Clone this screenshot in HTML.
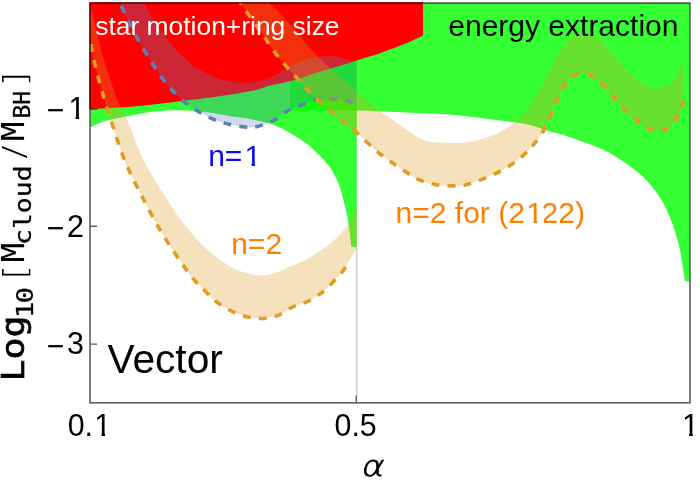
<!DOCTYPE html>
<html><head><meta charset="utf-8"><title>Vector</title>
<style>
html,body{margin:0;padding:0;background:#fff;}
svg{display:block;}
text{font-family:"Liberation Sans",sans-serif;}
text.lt{font-family:"DejaVu Sans Light","DejaVu Sans","Liberation Sans",sans-serif;font-weight:200;}
text.mono{font-family:"DejaVu Sans Mono","Liberation Mono",monospace;}
</style></head><body>
<svg width="700" height="482" viewBox="0 0 700 482">
<rect width="700" height="482" fill="#fff"/>
<!-- regions -->
<path d="M90.5 3.0 L90.5 127.3 C92.9 126.2 98.4 122.9 105.0 121.0 C111.6 119.1 121.7 117.3 130.0 115.7 C138.3 114.1 146.7 112.5 155.0 111.6 C163.3 110.7 171.7 110.2 180.0 110.3 C188.3 110.4 196.7 111.0 205.0 112.0 C213.3 113.0 221.7 114.7 230.0 116.0 C238.3 117.3 246.7 118.1 255.0 120.0 C263.3 121.9 271.7 123.8 280.0 127.5 C288.3 131.2 299.4 138.8 305.0 142.5 C310.6 146.2 310.8 147.3 313.8 150.0 C316.7 152.7 319.8 155.6 322.5 158.5 C325.2 161.4 327.8 164.4 330.0 167.5 C332.2 170.6 333.8 173.7 335.5 177.0 C337.2 180.3 338.6 183.3 340.0 187.5 C341.4 191.7 342.8 197.0 344.0 202.0 C345.2 207.0 346.6 212.5 347.5 217.5 C348.4 222.5 349.1 227.2 349.7 232.0 C350.3 236.8 351.0 244.1 351.2 246.5 L356.8 247.5 L356.8 3.0 Z" fill="#00ff00" fill-opacity="0.8"/>
<path d="M356.8 3.0 L356.8 110.5 C364.8 110.8 388.6 111.8 405.0 112.5 C421.4 113.2 438.3 113.5 455.0 115.0 C471.7 116.5 492.5 119.6 505.0 121.2 C517.5 122.9 523.3 123.5 530.0 125.0 C536.7 126.5 539.6 128.4 545.0 130.0 C550.4 131.6 555.4 132.5 562.5 134.8 C569.6 137.0 581.2 141.2 587.5 143.5 C593.8 145.8 596.2 146.6 600.0 148.3 C603.8 150.0 606.9 151.6 610.4 153.5 C613.9 155.4 617.2 157.4 620.7 159.7 C624.2 161.9 627.6 164.4 631.1 167.0 C634.6 169.6 638.0 172.0 641.5 175.3 C645.0 178.6 648.4 182.4 651.9 186.7 C655.4 191.0 659.1 195.8 662.2 201.2 C665.3 206.5 668.1 212.8 670.5 218.8 C672.9 224.9 675.2 232.3 676.8 237.5 C678.4 242.7 679.0 245.4 680.0 250.0 C681.0 254.6 681.7 260.1 682.5 265.3 C683.3 270.5 684.6 278.6 685.0 281.2 L689.5 281.2 L689.5 3.0 Z" fill="#00ff00" fill-opacity="0.8"/>
<rect x="290" y="3" width="66.75" height="107.6" fill="#00ff00" fill-opacity="0.8"/>
<path d="M89.3 2.2 L89.3 109.2 C96.1 108.8 114.9 108.1 130.0 106.8 C145.1 105.5 165.4 103.0 180.0 101.2 C194.6 99.5 205.0 98.3 217.5 96.5 C230.0 94.7 246.2 92.0 255.0 90.2 C263.8 88.4 264.1 87.1 270.0 85.6 C275.9 84.1 283.8 82.9 290.7 81.0 C297.6 79.1 304.6 76.6 311.5 74.4 C318.4 72.2 324.6 70.4 332.2 68.1 C339.8 65.8 350.8 62.5 357.1 60.5 C363.4 58.5 366.2 57.5 370.0 56.3 C373.8 55.1 374.2 55.3 380.0 53.2 C385.8 51.1 397.8 46.7 405.0 43.8 C412.2 40.8 420.0 36.9 423.0 35.5 L423.0 2.2 Z" fill="#fe0000"/>
<!-- bands -->
<path d="M120.0 3.0 C121.5 6.2 125.9 15.7 129.0 22.0 C132.1 28.3 134.8 34.0 138.8 41.0 C142.7 48.0 147.7 56.4 152.5 63.8 C157.3 71.1 162.1 78.5 167.5 85.0 C172.9 91.5 179.6 97.9 185.0 102.5 C190.4 107.1 195.0 109.6 200.0 112.5 C205.0 115.4 210.0 118.0 215.0 120.0 C220.0 122.0 225.0 123.3 230.0 124.5 C235.0 125.7 240.8 126.6 245.0 127.0 C249.2 127.4 250.4 128.0 255.0 127.0 C259.6 126.0 267.1 123.7 272.5 121.0 C277.9 118.3 282.9 113.6 287.5 111.0 C292.1 108.4 295.4 107.3 300.0 105.5 C304.6 103.7 309.6 101.1 315.0 100.0 C320.4 98.9 327.1 98.6 332.5 98.8 C337.9 98.9 343.5 100.0 347.5 101.0 C351.5 102.0 355.2 104.3 356.8 105.0 L356.8 63.5 C356.1 63.2 356.4 62.8 353.0 61.6 C349.6 60.5 342.0 57.4 336.5 56.6 C331.0 55.8 325.6 55.9 320.0 56.6 C314.4 57.3 308.6 58.8 303.0 60.8 C297.4 62.8 292.1 65.4 286.6 68.3 C281.1 71.2 274.9 75.8 270.0 78.0 C265.1 80.2 261.2 80.7 257.0 81.5 C252.8 82.3 249.5 82.8 245.0 82.8 C240.5 82.8 234.7 82.3 230.0 81.5 C225.3 80.7 221.2 79.5 217.0 78.0 C212.8 76.5 209.1 74.7 205.0 72.5 C200.9 70.3 197.3 68.8 192.5 65.0 C187.7 61.2 181.0 55.4 176.0 50.0 C171.0 44.6 166.5 38.0 162.5 32.5 C158.5 27.0 155.1 21.9 152.0 17.0 C148.9 12.1 145.1 5.3 143.8 3.0 Z" fill="#5e81b5" fill-opacity="0.3"/>
<path d="M120.0 3.0 C121.5 6.2 125.9 15.7 129.0 22.0 C132.1 28.3 134.8 34.0 138.8 41.0 C142.7 48.0 147.7 56.4 152.5 63.8 C157.3 71.1 162.1 78.5 167.5 85.0 C172.9 91.5 179.6 97.9 185.0 102.5 C190.4 107.1 195.0 109.6 200.0 112.5 C205.0 115.4 210.0 118.0 215.0 120.0 C220.0 122.0 225.0 123.3 230.0 124.5 C235.0 125.7 240.8 126.6 245.0 127.0 C249.2 127.4 250.4 128.0 255.0 127.0 C259.6 126.0 267.1 123.7 272.5 121.0 C277.9 118.3 282.9 113.6 287.5 111.0 C292.1 108.4 295.4 107.3 300.0 105.5 C304.6 103.7 309.6 101.1 315.0 100.0 C320.4 98.9 327.1 98.6 332.5 98.8 C337.9 98.9 343.5 100.0 347.5 101.0 C351.5 102.0 355.2 104.3 356.8 105.0" fill="none" stroke="#5e81b5" stroke-width="3.6" stroke-dasharray="7.9 8.15" stroke-dashoffset="12.98"/>
<path d="M90.5 35.0 C90.6 36.7 90.7 40.8 91.2 45.0 C91.8 49.2 91.7 51.2 93.8 60.0 C95.8 68.8 100.6 86.7 103.8 97.5 C106.9 108.3 109.4 115.4 112.5 125.0 C115.6 134.6 119.6 147.1 122.5 155.0 C125.4 162.9 126.7 165.4 130.0 172.5 C133.3 179.6 137.5 187.9 142.5 197.5 C147.5 207.1 153.8 219.4 160.0 230.0 C166.2 240.6 174.4 252.6 180.0 260.8 C185.6 269.0 189.6 274.3 193.8 279.3 C197.9 284.3 201.1 287.2 205.0 291.0 C208.9 294.8 212.6 298.9 217.0 302.2 C221.4 305.5 226.4 308.6 231.3 311.0 C236.2 313.4 241.4 315.4 246.5 316.7 C251.6 317.9 256.9 318.7 262.1 318.5 C267.3 318.3 272.8 317.5 277.8 315.6 C282.8 313.7 287.3 309.4 292.2 307.1 C297.1 304.8 302.3 304.0 307.1 301.7 C311.9 299.4 316.6 296.5 320.8 293.4 C325.0 290.2 328.7 286.6 332.4 282.8 C336.1 279.0 340.1 274.6 343.0 270.8 C345.9 267.1 347.2 264.1 349.5 260.3 C351.8 256.5 355.5 249.9 356.8 247.8 L356.8 206.0 C355.2 209.2 352.0 218.7 347.5 225.0 C343.0 231.3 337.1 237.9 330.0 243.8 C322.9 249.6 312.1 256.0 305.0 260.0 C297.9 264.0 292.0 265.5 287.5 267.5 C283.0 269.5 281.3 270.8 278.0 272.0 C274.7 273.2 271.3 274.5 267.5 275.0 C263.7 275.5 259.1 275.5 255.0 275.0 C250.9 274.5 247.2 273.4 243.0 272.0 C238.8 270.6 236.3 270.6 230.0 266.5 C223.7 262.4 212.9 254.9 205.0 247.5 C197.1 240.1 189.6 231.2 182.5 222.0 C175.4 212.8 167.1 199.5 162.5 192.5 C157.9 185.5 158.3 185.8 155.0 180.0 C151.7 174.2 147.3 168.4 142.5 158.0 C137.7 147.6 130.2 127.2 126.0 117.5 C121.8 107.8 121.2 109.8 117.5 100.0 C113.8 90.2 107.9 73.9 103.5 58.5 C99.1 43.1 93.2 16.4 91.0 7.5 C88.8 -1.4 90.6 5.4 90.5 5.0 Z" fill="#e19c24" fill-opacity="0.3"/>
<path d="M90.8 43.0 C90.9 43.9 91.1 45.7 91.6 48.5 C92.1 51.3 91.7 51.8 93.8 60.0 C95.8 68.2 100.6 86.7 103.8 97.5 C106.9 108.3 109.4 115.4 112.5 125.0 C115.6 134.6 119.6 147.1 122.5 155.0 C125.4 162.9 126.7 165.4 130.0 172.5 C133.3 179.6 137.5 187.9 142.5 197.5 C147.5 207.1 153.8 219.4 160.0 230.0 C166.2 240.6 174.4 252.6 180.0 260.8 C185.6 269.0 189.6 274.3 193.8 279.3 C197.9 284.3 201.1 287.2 205.0 291.0 C208.9 294.8 212.6 298.9 217.0 302.2 C221.4 305.5 226.4 308.6 231.3 311.0 C236.2 313.4 241.4 315.4 246.5 316.7 C251.6 317.9 256.9 318.7 262.1 318.5 C267.3 318.3 272.8 317.5 277.8 315.6 C282.8 313.7 287.3 309.4 292.2 307.1 C297.1 304.8 302.3 304.0 307.1 301.7 C311.9 299.4 316.6 296.5 320.8 293.4 C325.0 290.2 328.7 286.6 332.4 282.8 C336.1 279.0 340.1 274.6 343.0 270.8 C345.9 267.1 348.4 262.1 349.5 260.3" fill="none" stroke="#e19c24" stroke-width="3.6" stroke-dasharray="7.9 8.15" stroke-dashoffset="14.74"/>
<path d="M240.3 3.0 C241.7 5.0 245.8 10.7 248.6 14.7 C251.4 18.7 254.3 22.7 257.4 27.1 C260.5 31.5 263.4 35.7 267.1 41.0 C270.8 46.3 274.6 52.5 279.7 58.8 C284.8 65.0 291.6 72.3 297.5 78.8 C303.4 85.2 308.8 91.5 315.0 97.5 C321.2 103.5 328.3 109.4 335.0 115.0 C341.7 120.6 347.5 124.8 355.0 131.2 C362.5 137.7 371.5 147.0 380.0 153.8 C388.5 160.5 399.3 167.6 406.0 172.0 C412.7 176.4 415.2 178.1 420.0 180.2 C424.8 182.3 429.8 183.4 435.0 184.4 C440.2 185.4 445.8 185.9 451.2 185.9 C456.6 185.9 460.3 186.2 467.2 184.4 C474.1 182.6 484.9 178.4 492.5 175.0 C500.1 171.6 507.1 167.3 512.5 163.8 C517.9 160.2 521.5 156.9 525.0 153.8 C528.5 150.6 530.2 148.8 533.2 145.0 C536.2 141.2 540.4 136.0 543.3 131.0 C546.2 126.0 548.5 120.2 550.8 115.0 C553.1 109.8 554.9 104.6 557.0 100.0 C559.1 95.4 560.7 91.3 563.2 87.5 C565.7 83.7 568.6 79.4 572.0 77.0 C575.4 74.6 579.9 73.1 583.8 73.2 C587.6 73.4 591.5 75.6 595.0 78.0 C598.5 80.4 600.8 83.0 605.0 87.5 C609.2 92.0 615.0 99.7 620.0 105.0 C625.0 110.3 630.0 115.5 635.0 119.5 C640.0 123.5 645.4 126.9 650.0 128.8 C654.6 130.6 658.8 131.3 662.5 130.5 C666.2 129.7 669.6 126.8 672.5 123.8 C675.4 120.8 678.1 116.3 680.0 112.5 C681.9 108.7 683.1 102.9 683.8 101.0 L683.0 60.0 C682.1 62.5 679.7 71.0 677.5 75.0 C675.3 79.0 672.9 81.6 670.0 83.8 C667.1 85.9 663.3 87.6 660.0 88.0 C656.7 88.4 653.8 87.6 650.0 86.2 C646.2 84.9 641.7 82.9 637.5 80.0 C633.3 77.1 629.2 73.1 625.0 68.8 C620.8 64.4 616.7 58.5 612.5 53.8 C608.3 49.0 604.2 43.3 600.0 40.0 C595.8 36.7 591.7 34.4 587.5 33.8 C583.3 33.1 579.2 34.0 575.0 36.2 C570.8 38.5 566.7 41.9 562.5 47.5 C558.3 53.1 554.3 62.1 550.0 70.0 C545.7 77.9 540.6 88.0 536.5 95.0 C532.4 102.0 529.7 107.0 525.5 112.0 C521.3 117.0 517.0 121.1 511.5 125.0 C506.0 128.9 499.4 132.7 492.5 135.5 C485.6 138.3 476.5 140.7 470.0 141.9 C463.5 143.1 459.9 142.9 453.7 142.9 C447.5 142.9 438.2 142.5 433.0 141.9 C427.8 141.3 426.1 140.8 422.6 139.4 C419.1 138.0 417.4 137.0 412.2 133.6 C407.0 130.2 398.4 123.8 391.5 119.0 C384.6 114.2 376.7 109.2 370.8 104.5 C364.9 99.8 362.0 95.8 356.0 90.5 C350.0 85.2 342.0 78.8 335.0 72.5 C328.0 66.2 321.0 60.0 314.0 52.5 C307.0 45.0 300.6 35.8 293.2 27.5 C285.8 19.2 273.4 7.1 269.5 3.0 Z" fill="#e19c24" fill-opacity="0.3"/>
<path d="M240.3 3.0 C241.7 5.0 245.8 10.7 248.6 14.7 C251.4 18.7 254.3 22.7 257.4 27.1 C260.5 31.5 263.4 35.7 267.1 41.0 C270.8 46.3 274.6 52.5 279.7 58.8 C284.8 65.0 291.6 72.3 297.5 78.8 C303.4 85.2 308.8 91.5 315.0 97.5 C321.2 103.5 328.3 109.4 335.0 115.0 C341.7 120.6 347.5 124.8 355.0 131.2 C362.5 137.7 371.5 147.0 380.0 153.8 C388.5 160.5 399.3 167.6 406.0 172.0 C412.7 176.4 415.2 178.1 420.0 180.2 C424.8 182.3 429.8 183.4 435.0 184.4 C440.2 185.4 445.8 185.9 451.2 185.9 C456.6 185.9 460.3 186.2 467.2 184.4 C474.1 182.6 484.9 178.4 492.5 175.0 C500.1 171.6 507.1 167.3 512.5 163.8 C517.9 160.2 521.5 156.9 525.0 153.8 C528.5 150.6 530.2 148.8 533.2 145.0 C536.2 141.2 540.4 136.0 543.3 131.0 C546.2 126.0 548.5 120.2 550.8 115.0 C553.1 109.8 554.9 104.6 557.0 100.0 C559.1 95.4 560.7 91.3 563.2 87.5 C565.7 83.7 568.6 79.4 572.0 77.0 C575.4 74.6 579.9 73.1 583.8 73.2 C587.6 73.4 591.5 75.6 595.0 78.0 C598.5 80.4 600.8 83.0 605.0 87.5 C609.2 92.0 615.0 99.7 620.0 105.0 C625.0 110.3 630.0 115.5 635.0 119.5 C640.0 123.5 645.4 126.9 650.0 128.8 C654.6 130.6 658.8 131.3 662.5 130.5 C666.2 129.7 669.6 126.8 672.5 123.8 C675.4 120.8 678.1 116.3 680.0 112.5 C681.9 108.7 683.1 102.9 683.8 101.0" fill="none" stroke="#e19c24" stroke-width="3.6" stroke-dasharray="7.9 8.15" stroke-dashoffset="5.98"/>
<!-- frame -->
<line x1="356.6" y1="247.5" x2="356.6" y2="396" stroke="#000" stroke-opacity="0.17" stroke-width="1.6"/>
<g stroke="#000" stroke-opacity="0.63" stroke-width="1.6" fill="none">
<rect x="90.05" y="3" width="599.95" height="399.8"/>
<path d="M90.85 109.1H97M90.85 226.3H97M90.85 344.1H97M356.3 395.5V402" stroke-width="1.4"/>
</g>
<defs><clipPath id="k1"><path clip-rule="evenodd" d="M-999 -999H1999V999H-999Z M243.40 161.80H251.50V167.50H243.40Z M255.00 161.80H261.80V167.50H255.00Z"/></clipPath><clipPath id="k2"><path clip-rule="evenodd" d="M-999 -999H1999V999H-999Z M525.34 219.50H533.44V225.20H525.34Z M536.94 219.50H543.74V225.20H536.94Z"/></clipPath><clipPath id="k3"><path clip-rule="evenodd" d="M-999 -999H1999V999H-999Z M20.60 -5.74H28.80V0.01H20.60Z M32.34 -5.74H39.23V0.01H32.34Z"/></clipPath><clipPath id="k4"><path clip-rule="evenodd" d="M-999 -999H1999V999H-999Z M25.60 -3.75H33.80V2.00H25.60Z M37.34 -3.75H44.23V2.00H37.34Z"/></clipPath><clipPath id="k5"><path clip-rule="evenodd" d="M-999 -999H1999V999H-999Z M-1.00 -3.75H7.20V2.00H-1.00Z M10.74 -3.75H17.63V2.00H10.74Z"/></clipPath></defs>
<!-- labels -->
<text x="95.3" y="34.7" font-size="26.4" fill="#fff">star motion+ring size</text>
<text x="448.3" y="35.6" font-size="30" fill="#000">energy extraction</text>
<text x="208.2" y="165.5" font-size="30" fill="#0a0af5" clip-path="url(#k1)">n=<tspan dx="2">1</tspan></text>
<text x="231.2" y="253.6" font-size="30" fill="#ff8000">n=2</text>
<text x="395.6" y="223.2" font-size="30" fill="#ff8000" clip-path="url(#k2)">n=2 for (2<tspan dx="1.5">1</tspan><tspan dx="-1.5">22)</tspan></text>
<text x="107.5" y="372.5" font-size="40.7" fill="#000">Vector</text>
<!-- ticks -->
<g font-size="30.4" fill="#000">
<text transform="translate(46.8,121.1) scale(1,1.055)" clip-path="url(#k3)">−<tspan dx="3.85" dy="-1.99">1</tspan></text>
<text transform="translate(46.8,238.8) scale(1,1.055)">−<tspan dx="2.35" dy="-1.99">2</tspan></text>
<text transform="translate(46.8,356.5) scale(1,1.055)">−<tspan dx="2.35" dy="-1.99">3</tspan></text>
<text transform="translate(67.7,436) scale(1,1.055)" clip-path="url(#k4)">0.<tspan dx="1.25">1</tspan></text>
<text transform="translate(334.5,436) scale(1,1.055)">0.5</text>
<text transform="translate(682,436) scale(1,1.055)" clip-path="url(#k5)">1</text>
</g>
<text class="lt" transform="translate(371.6,475.6) skewX(-12) scale(1.12,0.93)" font-size="31" text-anchor="middle" stroke="#000" stroke-width="0.85">α</text>
<!-- y label -->
<g fill="#000">
<text class="mono" transform="translate(24.3,381.4) rotate(-90) scale(1.14,1)" font-size="32" stroke="#000" stroke-width="0.7">Log</text>
<text class="mono" transform="translate(33.2,318.3) rotate(-90) scale(1.2,1)" font-size="23" letter-spacing="-1.5" stroke="#000" stroke-width="0.3">10</text>
<text class="lt" transform="translate(25.8,280) rotate(-90) scale(1.2,1)" font-size="32.5">[</text>
<text class="mono" transform="translate(24.3,262.2) rotate(-90)" font-size="32" stroke="#000" stroke-width="0.15">M</text>
<text class="mono" transform="translate(30.8,245) rotate(-90) scale(1.15,1)" font-size="23" stroke="#000" stroke-width="0.3">cloud</text>
<text class="lt" transform="translate(24.3,158.5) rotate(-90) scale(1.3,1)" font-size="30">/</text>
<text class="mono" transform="translate(24.3,141) rotate(-90)" font-size="32" stroke="#000" stroke-width="0.15">M</text>
<text class="mono" transform="translate(30.2,118.6) rotate(-90)" font-size="23" stroke="#000" stroke-width="0.3">BH</text>
<text class="lt" transform="translate(25.8,86.8) rotate(-90) scale(1.2,1)" font-size="32.5">]</text>
</g>
</svg>
</body></html>
